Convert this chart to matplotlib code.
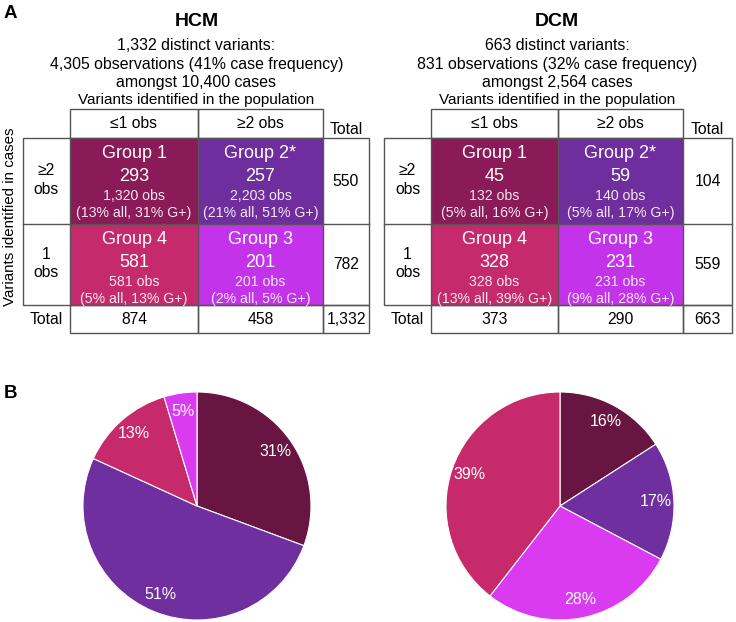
import matplotlib
matplotlib.use("Agg")
import matplotlib.pyplot as plt
from matplotlib.patches import Rectangle

plt.rcParams["font.family"] = ["Liberation Sans", "DejaVu Sans"]

# data
diseases = ["HCM", "DCM"]
n_variants = [1332, 663]
n_obs = [4305, 831]
case_freq = [41, 32]
n_cases = [10400, 2564]

group_names = ["Group 1", "Group 2*", "Group 3", "Group 4"]
hcm_variants = [293, 257, 201, 581]
hcm_obs = [1320, 2203, 201, 581]
hcm_pct_all = [13, 21, 2, 5]
hcm_pct_gpos = [31, 51, 5, 13]
dcm_variants = [45, 59, 231, 328]
dcm_obs = [132, 140, 231, 328]
dcm_pct_all = [5, 5, 9, 13]
dcm_pct_gpos = [16, 17, 28, 39]

col_labels = ["\u22641 obs", "\u22652 obs"]
row_labels = ["\u22652\nobs", "1\nobs"]

# pie slice order (clockwise from 12 o'clock), as indices into group_names
hcm_pie_order = [0, 1, 3, 2]
dcm_pie_order = [0, 1, 2, 3]

table_colors = ["#8A1A58", "#6E2E9E", "#C333EA", "#C42A6C"]
pie_colors = ["#681542", "#6F2F9E", "#DA3AF0", "#C62A6B"]

W, H = 736, 622
fig = plt.figure(figsize=(W / 100, H / 100), dpi=100)
ax = fig.add_axes([0, 0, 1, 1])
ax.set_xlim(0, W)
ax.set_ylim(H, 0)
ax.axis("off")

line_kw = dict(color="#555555", linewidth=1.0)
FS = 11.3


def box(x0, y0, x1, y1, fc="none"):
    ax.add_patch(Rectangle((x0, y0), x1 - x0, y1 - y0, facecolor=fc,
                           edgecolor="#555555", linewidth=1.0))


def draw_table(x_row, x_c0, x_c1, x_c2, x_tot, variants, obs, pct_all,
               pct_gpos, name, idx):
    cx = (x_c0 + x_c2) / 2
    y_head0, y_head1 = 109, 138
    y_mid, y_bot, y_tot = 224, 305, 333
    ax.text(cx, 22, name, ha="center", va="center", fontsize=14,
            fontweight="bold")
    ax.text(cx, 46, f"{n_variants[idx]:,} distinct variants:", ha="center",
            va="center", fontsize=11.4)
    ax.text(cx, 64, f"{n_obs[idx]:,} observations ({case_freq[idx]}% case frequency)",
            ha="center", va="center", fontsize=11.4)
    ax.text(cx, 82, f"amongst {n_cases[idx]:,} cases", ha="center",
            va="center", fontsize=11.4)
    ax.text(cx, 100, "Variants identified in the population", ha="center",
            va="center", fontsize=11)

    # header
    box(x_c0, y_head0, x_c1, y_head1)
    box(x_c1, y_head0, x_c2, y_head1)
    ax.text((x_c0 + x_c1) / 2, 124, col_labels[0], ha="center", va="center", fontsize=FS)
    ax.text((x_c1 + x_c2) / 2, 124, col_labels[1], ha="center", va="center", fontsize=FS)
    ax.text((x_c2 + x_tot) / 2, 130, "Total", ha="center", va="center", fontsize=FS)

    # cells: layout [[G1, G2], [G4, G3]]
    layout = [[0, 1], [3, 2]]
    rows = [(y_head1, y_mid), (y_mid, y_bot)]
    cols = [(x_c0, x_c1), (x_c1, x_c2)]
    for r, (ya, yb) in enumerate(rows):
        for c, (xa, xb) in enumerate(cols):
            g = layout[r][c]
            ax.add_patch(Rectangle((xa, ya), xb - xa, yb - ya,
                                   facecolor=table_colors[g], edgecolor="none"))
            mx = (xa + xb) / 2
            ax.text(mx, ya + 15, group_names[g], ha="center", va="center",
                    fontsize=13, color="white")
            ax.text(mx, ya + 38.5, f"{variants[g]:,}", ha="center", va="center",
                    fontsize=13, color="white")
            ax.text(mx, ya + 58, f"{obs[g]:,} obs", ha="center", va="center",
                    fontsize=10.2, color="#F6E6F0")
            ax.text(mx, ya + 75.5, f"({pct_all[g]}% all, {pct_gpos[g]}% G+)",
                    ha="center", va="center", fontsize=10.2, color="#F6E6F0")
        ax.text((x_row + x_c0) / 2, (ya + yb) / 2 - 1, row_labels[r],
                ha="center", va="center", fontsize=FS, linespacing=1.3)

    row_tot = [variants[0] + variants[1], variants[3] + variants[2]]
    col_tot = [variants[0] + variants[3], variants[1] + variants[2]]
    for r, (ya, yb) in enumerate(rows):
        ax.text((x_c2 + x_tot) / 2, (ya + yb) / 2, f"{row_tot[r]:,}",
                ha="center", va="center", fontsize=FS)

    # main grid lines
    box(x_row, y_head1, x_tot, y_bot)
    for x in (x_c0, x_c1, x_c2):
        ax.plot([x, x], [y_head1, y_bot], **line_kw)
    ax.plot([x_row, x_tot], [y_mid, y_mid], **line_kw)

    # total row
    box(x_c0, y_bot, x_c1, y_tot)
    box(x_c1, y_bot, x_c2, y_tot)
    box(x_c2, y_bot, x_tot, y_tot)
    yt = (y_bot + y_tot) / 2
    ax.text((x_row + x_c0) / 2, yt, "Total", ha="center", va="center", fontsize=FS)
    ax.text((x_c0 + x_c1) / 2, yt, f"{col_tot[0]:,}", ha="center", va="center", fontsize=FS)
    ax.text((x_c1 + x_c2) / 2, yt, f"{col_tot[1]:,}", ha="center", va="center", fontsize=FS)
    ax.text((x_c2 + x_tot) / 2, yt, f"{sum(col_tot):,}", ha="center", va="center", fontsize=FS)


draw_table(23, 70, 198, 323, 369, hcm_variants, hcm_obs, hcm_pct_all,
           hcm_pct_gpos, diseases[0], 0)
draw_table(384, 431, 558, 683, 732, dcm_variants, dcm_obs, dcm_pct_all,
           dcm_pct_gpos, diseases[1], 1)

ax.text(10, 217, "Variants identified in cases", rotation=90, ha="center",
        va="center", fontsize=10.9)
ax.text(4, 14, "A", ha="left", va="center", fontsize=13.5, fontweight="bold")
ax.text(4, 393, "B", ha="left", va="center", fontsize=13.5, fontweight="bold")


def draw_pie(cx, cy, r, obs, order):
    pax = fig.add_axes([(cx - r) / W, (H - cy - r) / H, 2 * r / W, 2 * r / H])
    vals = [obs[i] for i in order]
    cols = [pie_colors[i] for i in order]
    pax.pie(vals, colors=cols, startangle=90, counterclock=False,
            autopct="%.0f%%", pctdistance=0.84,
            wedgeprops=dict(edgecolor="white", linewidth=0.8),
            textprops=dict(color="white", fontsize=11.5))
    pax.set_xlim(-1, 1)
    pax.set_ylim(-1, 1)


draw_pie(197, 506, 114, hcm_obs, hcm_pie_order)
draw_pie(560, 506, 114, dcm_obs, dcm_pie_order)

fig.savefig("out.png", dpi=100)
